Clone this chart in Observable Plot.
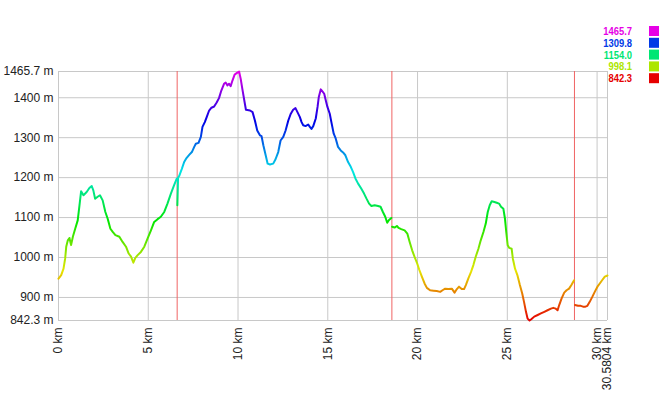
<!DOCTYPE html>
<html><head><meta charset="utf-8">
<script src="https://cdn.jsdelivr.net/npm/d3@7"></script>
<script src="https://cdn.jsdelivr.net/npm/@observablehq/plot@0.6"></script>
<style>body{margin:0;background:#fff;} svg{display:block}</style>
</head><body><div id="chart"></div>
<script>
// Elevation profile, four stages (km, metres)
const stage1Km = [0,0.15,0.28,0.37,0.43,0.52,0.61,0.70,0.80,0.93,1.07,1.17,1.26,1.39,1.57,1.72,1.85,1.94,2.04,2.18,2.31,2.46,2.61,2.74,2.89,3.02,3.17,3.39,3.57,3.76,3.91,4.04,4.17,4.28,4.41,4.59,4.78,4.96,5.15,5.33,5.52,5.70,5.89,6.07,6.26,6.44,6.58];
const stage1M  = [947,956,972,997,1027,1043,1049,1031,1052,1072,1093,1131,1166,1156,1164,1174,1179,1168,1147,1152,1156,1143,1114,1097,1072,1064,1056,1052,1039,1027,1010,1002,987,999,1006,1014,1027,1047,1068,1089,1096,1102,1114,1135,1160,1181,1197];

const stage2Km = [6.62,6.66,6.72,6.87,7.00,7.13,7.28,7.43,7.56,7.65,7.80,7.93,8.02,8.15,8.26,8.39,8.52,8.67,8.81,8.94,9.07,9.22,9.31,9.41,9.50,9.59,9.69,9.81,9.96,10.06,10.15,10.24,10.35,10.44,10.67,10.81,10.94,11.07,11.22,11.31,11.41,11.54,11.65,11.78,11.96,12.09,12.24,12.37,12.52,12.65,12.80,12.94,13.07,13.20,13.31,13.44,13.54,13.63,13.76,13.91,14.00,14.09,14.19,14.33,14.43,14.50,14.61,14.70,14.80,14.89,14.98,15.11,15.20,15.33,15.44,15.57,15.72,15.85,15.98,16.13,16.28,16.41,16.54,16.69,16.87,17.02,17.15,17.30,17.43,17.61,17.80,17.94,18.07,18.20,18.31,18.41,18.54];
const stage2M  = [1131,1200,1204,1222,1239,1249,1257,1264,1277,1285,1287,1302,1327,1339,1352,1368,1375,1378,1388,1399,1418,1435,1438,1431,1435,1429,1443,1458,1463,1465.7,1447,1422,1393,1370,1368,1364,1343,1318,1306,1304,1281,1256,1235,1233,1235,1246,1264,1293,1302,1318,1343,1360,1370,1374,1364,1352,1339,1331,1329,1333,1327,1322,1329,1348,1377,1402,1421,1416,1410,1393,1377,1360,1339,1310,1298,1277,1268,1263,1256,1239,1227,1214,1198,1185,1172,1160,1148,1135,1129,1131,1129,1127,1114,1102,1087,1094,1099];

const stage3Km = [18.58,18.72,18.85,18.94,19.09,19.28,19.43,19.56,19.70,19.83,19.98,20.09,20.24,20.39,20.52,20.70,20.89,21.07,21.26,21.39,21.54,21.72,21.91,22.06,22.19,22.31,22.46,22.59,22.69,22.83,22.98,23.11,23.24,23.39,23.52,23.67,23.80,23.91,24.02,24.13,24.28,24.41,24.54,24.65,24.78,24.87,24.94,25.02,25.11,25.24,25.31,25.43,25.56,25.70,25.83,25.93,26.04,26.13,26.24,26.35,26.50,26.69,26.87,27.06,27.24,27.43,27.56,27.70,27.80,27.89,28.02,28.17,28.30,28.44,28.57,28.72];
const stage3M  = [1077,1075,1079,1074,1071,1068,1060,1039,1018,1002,985,970,952,935,924,918,917,916,914,918,922,921,922,912,921,927,921,921,931,948,964,981,1002,1022,1043,1064,1085,1114,1131,1141,1139,1137,1135,1127,1122,1097,1064,1031,1024,1022,997,972,956,931,910,889,864,847,842.3,846,852,856,860,864,868,872,874,872,868,881,897,912,918,922,931,943];

const stage4Km = [28.77,28.94,29.09,29.22,29.35,29.46,29.59,29.74,29.87,30.02,30.15,30.28,30.43,30.5804];
const stage4M  = [881,879,879,877,877,879,889,902,914,927,935,943,952,955];

const stageBreaksKm = [6.61, 18.57, 28.74];
const xTicks = [0, 5, 10, 15, 20, 25, 30, 30.5804];
const yTicks = [842.3, 900, 1000, 1100, 1200, 1300, 1400, 1465.7];
const legendValues = [1465.7, 1309.8, 1154.0, 998.1, 842.3];
const elevMin = 842.3, elevMax = 1465.7;

const stages = [[stage1Km, stage1M], [stage2Km, stage2M], [stage3Km, stage3M], [stage4Km, stage4M]];
const points = stages.flatMap(([km, m], s) => km.map((k, i) => ({km: k, m: m[i], stage: s + 1})));

const hueColor = v => d3.hsl(300 * (v - elevMin) / (elevMax - elevMin), 1, 0.45).formatHex();

const chart = Plot.plot({
  width: 668, height: 395,
  marginLeft: 58, marginRight: 61, marginTop: 71, marginBottom: 75,
  style: {fontFamily: "'Liberation Sans', Arial, sans-serif", fontSize: "12px", color: "#222", background: "#fff"},
  x: {domain: [0, 30.5804]},
  y: {domain: [elevMin, elevMax]},
  marks: [
    Plot.gridX(xTicks, {stroke: "#c8c8c8", strokeOpacity: 1}),
    Plot.gridY(yTicks, {stroke: "#c8c8c8", strokeOpacity: 1}),
    Plot.ruleX(stageBreaksKm, {stroke: "#f06464", strokeWidth: 1}),
    Plot.line(points, {x: "km", y: "m", z: "stage", stroke: "url(#elevGrad)", strokeWidth: 2}),
    Plot.axisX(xTicks, {tickRotate: -90, tickSize: 0, tickPadding: 7, tickFormat: d => `${d} km`, label: null, fontSize: 12}),
    Plot.axisY(yTicks, {tickSize: 0, tickPadding: 5, tickFormat: d => `${d} m`, label: null, fontSize: 12})
  ]
});

const ys = chart.scale("y");
const svg = d3.select(chart);
const grad = svg.insert("defs", ":first-child").append("linearGradient")
  .attr("id", "elevGrad").attr("gradientUnits", "userSpaceOnUse")
  .attr("x1", 0).attr("x2", 0)
  .attr("y1", ys.apply(elevMin)).attr("y2", ys.apply(elevMax));
d3.range(0, 1.0001, 0.05).forEach(t => {
  grad.append("stop").attr("offset", t).attr("stop-color", hueColor(elevMin + t * (elevMax - elevMin)));
});

const leg = svg.append("g");
legendValues.forEach((v, i) => {
  const top = 26 + i * 11.8;
  const c = hueColor(v);
  leg.append("rect").attr("x", 649).attr("y", top).attr("width", 10).attr("height", 10).attr("fill", c);
  leg.append("text").attr("transform", `translate(632,${top + 9}) scale(0.82,1)`)
    .attr("text-anchor", "end").attr("fill", c)
    .attr("font-family", "'Liberation Sans', Arial, sans-serif")
    .attr("font-size", 11.5).attr("font-weight", "bold")
    .text(v.toFixed(1));
});

document.getElementById("chart").append(chart);
</script>
</body></html>
